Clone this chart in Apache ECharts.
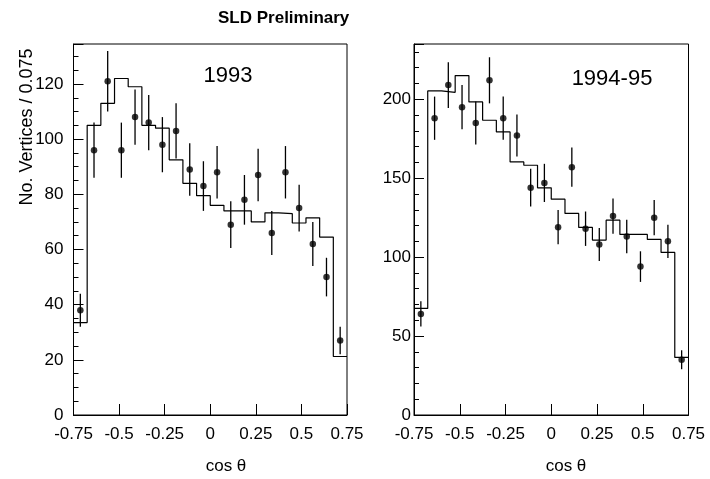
<!DOCTYPE html>
<html>
<head>
<meta charset="utf-8">
<script src="https://cdn.jsdelivr.net/npm/echarts@6/dist/echarts.min.js"></script>
<style>
    html, body { margin: 0; padding: 0; background: #fff; }
    #chart { width: 710px; height: 479px; }
</style>
</head>
<body>
<div id="chart"></div>
<script>
    // bin edges in cos(theta), 20 bins of 0.075
    var binEdges = [-0.75, -0.675, -0.6, -0.525, -0.45, -0.375, -0.3, -0.225, -0.15, -0.075, 0,
                    0.075, 0.15, 0.225, 0.3, 0.375, 0.45, 0.525, 0.6, 0.675, 0.75];
    var binCenters = [-0.7125, -0.6375, -0.5625, -0.4875, -0.4125, -0.3375, -0.2625, -0.1875, -0.1125, -0.0375,
                      0.0375, 0.1125, 0.1875, 0.2625, 0.3375, 0.4125, 0.4875, 0.5625, 0.6375, 0.7125];
    var xTickLabels = ['-0.75', '-0.5', '-0.25', '0', '0.25', '0.5', '0.75'];

    // 1993
    var data93 = [38, 96, 121, 96, 108, 106, 98, 103, 89, 83, 88, 69, 78, 87, 66, 88, 75, 62, 50, 27];
    var err93  = [6, 10, 11, 10, 10, 10, 10, 10, 9.5, 9, 9.5, 8.5, 9, 9.5, 8, 9.5, 8.5, 8, 7, 5];
    var mc93   = [33.5, 105, 113, 122, 119, 105, 104, 92.5, 84, 79.5, 76, 74, 74, 70, 73.3, 73, 69.6, 71.5, 64.5, 21.2];

    // 1994-95
    var data95 = [64, 188, 209, 195, 185, 212, 188, 177, 144, 147, 119, 157, 118, 108, 126, 113, 94, 125, 110, 35];
    var err95  = [8, 13.7, 14.5, 14, 13.6, 14.6, 13.7, 13.3, 12, 12.1, 10.9, 12.5, 10.9, 10.4, 11.2, 10.6, 9.7, 11.2, 10.5, 6];
    var mc95   = [67.5, 205.3, 204.4, 215, 198.3, 186.7, 179.3, 160.3, 158.2, 143.9, 136.7, 127.7, 118.8, 110.8, 123.4, 114.4, 114.4, 111.2, 103, 36.5];

    var font = 'Liberation Sans, Arial, Helvetica, sans-serif';

    // histogram as step line: left edge of each bin + last right edge
    function stepData(h) {
        var out = [];
        for (var i = 0; i < h.length; i++) out.push([binEdges[i], h[i]]);
        out.push([binEdges[h.length], h[h.length - 1]]);
        return out;
    }
    function pointData(v) {
        return v.map(function (y, i) { return [binCenters[i], y]; });
    }
    function errData(v, e) {
        return v.map(function (y, i) { return [binCenters[i], y - e[i], y + e[i]]; });
    }
    function renderErr(params, api) {
        var a = api.coord([api.value(0), api.value(1)]);
        var b = api.coord([api.value(0), api.value(2)]);
        return {
            type: 'line',
            shape: { x1: a[0], y1: a[1], x2: b[0], y2: b[1] },
            style: { stroke: '#000', lineWidth: 1.3 }
        };
    }

    function xAxis(gi) {
        return {
            type: 'value', gridIndex: gi, min: -0.75, max: 0.75, interval: 0.25,
            axisLine: { onZero: false, lineStyle: { color: '#000', width: 1 } },
            axisTick: { inside: true, length: 11, lineStyle: { color: '#000' } },
            splitLine: { show: false },
            axisLabel: {
                color: '#000', fontSize: 17, fontFamily: font, margin: 11, hideOverlap: false,
                showMinLabel: true, showMaxLabel: true,
                formatter: function (v) {
                    var i = Math.round((v + 0.75) / 0.25);
                    return xTickLabels[i] || '';
                }
            }
        };
    }
    // minor axis carries labels + short ticks, major axis only long ticks
    function yMinor(gi, max, step, major, margin) {
        return {
            type: 'value', gridIndex: gi, position: 'left', min: 0, max: max, interval: step,
            axisLine: { show: true, onZero: false, lineStyle: { color: '#000', width: 1 } },
            axisTick: { inside: true, length: 5, lineStyle: { color: '#000' } },
            splitLine: { show: false },
            axisLabel: {
                color: '#000', fontSize: 17, fontFamily: font, margin: margin,
                showMaxLabel: false,
                formatter: function (v) { return v % major === 0 ? String(v) : ''; }
            }
        };
    }
    function yMajor(gi, max, major) {
        return {
            type: 'value', gridIndex: gi, position: 'left', min: 0, max: max, interval: major,
            axisLine: { show: false, onZero: false },
            axisTick: { inside: true, length: 10, lineStyle: { color: '#000' } },
            splitLine: { show: false },
            axisLabel: { show: false }
        };
    }

    function panelSeries(xi, yi, mc, pts, err) {
        return [
            {
                type: 'line', xAxisIndex: xi, yAxisIndex: yi, step: 'end',
                data: stepData(mc), symbol: 'none', silent: true,
                lineStyle: { color: '#000', width: 1.2 }
            },
            {
                type: 'custom', xAxisIndex: xi, yAxisIndex: yi,
                data: errData(pts, err), renderItem: renderErr, z: 3
            },
            {
                type: 'scatter', xAxisIndex: xi, yAxisIndex: yi,
                data: pointData(pts), symbol: 'circle', symbolSize: 6.5,
                itemStyle: { color: '#000' }, z: 4
            }
        ];
    }

    var myChart = echarts.init(document.getElementById('chart'));
    var option = {
        backgroundColor: '#fff',
        animation: false,
        title: {
            text: 'SLD Preliminary', left: 213, top: 5,
            textStyle: { color: '#000', fontSize: 17, fontWeight: 'bold', fontFamily: font }
        },
        grid: [
            { left: 73.5, top: 44, width: 273.5, height: 371, show: true, borderColor: '#000', borderWidth: 1 },
            { left: 414, top: 44, width: 274.5, height: 371, show: true, borderColor: '#000', borderWidth: 1 }
        ],
        xAxis: [xAxis(0), xAxis(1)],
        yAxis: [
            yMinor(0, 134.5, 5, 20, 10), yMajor(0, 134.5, 20),
            yMinor(1, 235, 10, 50, 3), yMajor(1, 235, 50)
        ],
        graphic: [
            { type: 'text', x: 228, y: 76, style: { text: '1993', fill: '#000', font: '22px ' + font, align: 'center', verticalAlign: 'middle' } },
            { type: 'text', x: 612, y: 79, style: { text: '1994-95', fill: '#000', font: '22px ' + font, align: 'center', verticalAlign: 'middle' } },
            { type: 'text', x: 226, y: 466, style: { text: 'cos θ', fill: '#000', font: '17px ' + font, align: 'center', verticalAlign: 'middle' } },
            { type: 'text', x: 566, y: 466, style: { text: 'cos θ', fill: '#000', font: '17px ' + font, align: 'center', verticalAlign: 'middle' } },
            { type: 'text', x: 27, y: 127, rotation: Math.PI / 2, style: { text: 'No. Vertices / 0.075', fill: '#000', font: '18px ' + font, align: 'center', verticalAlign: 'middle' } }
        ],
        series: [].concat(
            panelSeries(0, 0, mc93, data93, err93),
            panelSeries(1, 2, mc95, data95, err95)
        )
    };
    myChart.setOption(option);
</script>
</body>
</html>
